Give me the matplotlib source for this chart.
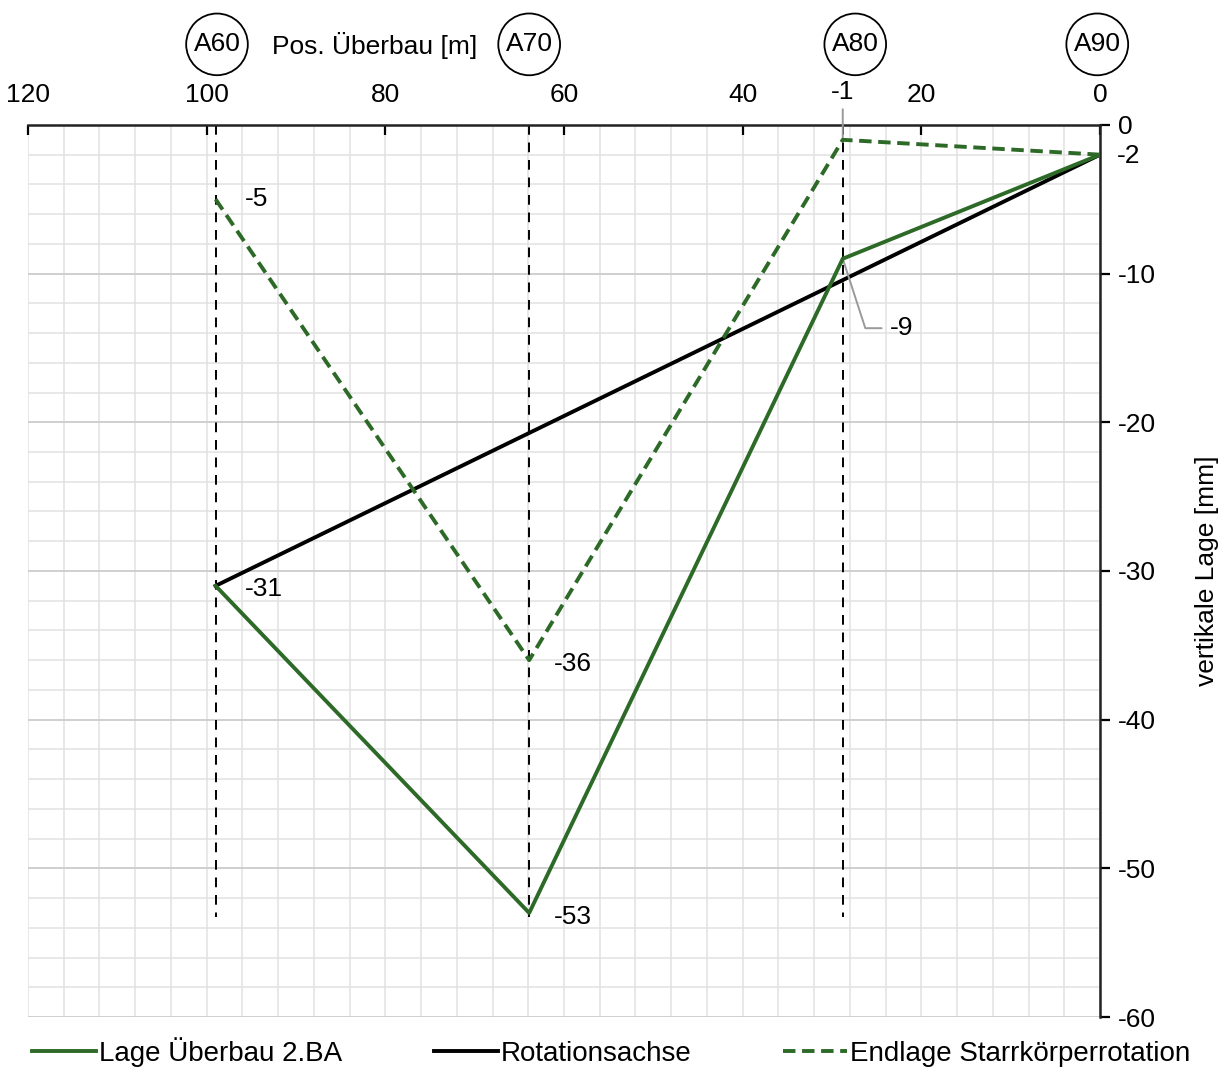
import matplotlib
matplotlib.use("Agg")
import matplotlib.pyplot as plt
from matplotlib.ticker import MultipleLocator

plt.rcParams['font.family'] = ['Liberation Sans', 'DejaVu Sans']

# ---- data ----
axes_names = ["A60", "A70", "A80", "A90"]
axes_pos = [99.0, 63.9, 28.8, 0.0]
lage_ueberbau = [-31, -53, -9, -2]
rot_x = [99.0, 0.0]
rot_y = [-31, -2]
endlage = [-5, -36, -1, -2]
x_ticks = [120, 100, 80, 60, 40, 20, 0]
y_ticks = [0, -10, -20, -30, -40, -50, -60]

green = "#2d6a27"
fs = 19

fig = plt.figure(figsize=(12.28, 10.77), dpi=100)
ax = fig.add_axes([0.0228, 0.0557, 0.8730, 0.8283])

ax.set_xlim(120, 0)
ax.set_ylim(-60, 0)

# grid
ax.xaxis.set_minor_locator(MultipleLocator(4))
ax.yaxis.set_minor_locator(MultipleLocator(2))
ax.set_xticks(x_ticks)
ax.set_yticks(y_ticks)
ax.grid(which='minor', color='#e1e1e1', lw=1.1)
ax.grid(which='major', axis='y', color='#cccccc', lw=1.3)
ax.grid(which='major', axis='x', color='#e1e1e1', lw=1.1)
ax.set_axisbelow(True)

for s in ['left', 'bottom']:
    ax.spines[s].set_visible(False)
for s in ['top', 'right']:
    ax.spines[s].set_color('#222222')
    ax.spines[s].set_linewidth(1.8)

ax.xaxis.tick_top()
ax.yaxis.tick_right()
ax.tick_params(axis='x', which='major', direction='in', length=7, width=1.6,
               labelsize=fs, pad=13, colors='black')
ax.tick_params(axis='y', which='major', direction='out', length=7, width=1.6,
               labelsize=fs, pad=6, colors='black')
ax.tick_params(which='minor', length=0)
ax.set_yticklabels([str(v) for v in y_ticks])

ax.set_ylabel("vertikale Lage [mm]", fontsize=fs, labelpad=28)
ax.yaxis.set_label_position('right')

# vertical axis lines (dashed)
for xp in axes_pos[:3]:
    ax.plot([xp, xp], [0, -53.3], color='black', lw=1.4, ls=(0, (5, 4)), zorder=2)

# series
l1, = ax.plot(axes_pos, lage_ueberbau, color=green, lw=2.8, zorder=4,
              label="Lage Überbau 2.BA")
l2, = ax.plot(rot_x, rot_y, color='black', lw=2.8, zorder=3,
              label="Rotationsachse")
l3, = ax.plot(axes_pos, endlage, color=green, lw=2.8, ls=(0, (3.2, 1.7)),
              zorder=4, label="Endlage Starrkörperrotation")

# data labels
def lab(x, y, txt, dx, dy):
    ax.annotate(txt, (x, y), xytext=(dx, dy), textcoords='offset points',
                fontsize=fs, ha='left', va='center', annotation_clip=False)

lab(axes_pos[0], endlage[0], "-5", 21, 0)
lab(axes_pos[0], rot_y[0], "-31", 21, -2)
lab(axes_pos[1], endlage[1], "-36", 18, -3)
lab(axes_pos[1], lage_ueberbau[1], "-53", 18, -3)
lab(axes_pos[3], lage_ueberbau[3], "-2", 12, -1)
ax.annotate("-9", (axes_pos[2], lage_ueberbau[2]), xytext=(34, -50),
            textcoords='offset points', fontsize=fs, ha='left', va='center',
            arrowprops=dict(arrowstyle='-', color='#9a9a9a', lw=1.4,
                            shrinkA=4, shrinkB=0, relpos=(0, 0.5),
                            connectionstyle='angle,angleA=0,angleB=-72,rad=0'))
ax.annotate("-1", (axes_pos[2], endlage[2]), xytext=(0, 26),
            textcoords='offset points', fontsize=fs, ha='center', va='bottom',
            annotation_clip=False,
            arrowprops=dict(arrowstyle='-', color='#9a9a9a', lw=1.4,
                            shrinkA=2, shrinkB=0, relpos=(0.5, 0)))

# axis circles
circle_dx = [1, 0, 9, -2]
for name, xp, dx in zip(axes_names, axes_pos, circle_dx):
    ax.annotate(name, (xp, 0), xytext=(dx, 58), textcoords='offset points',
                ha='center', va='center', fontsize=fs, annotation_clip=False,
                bbox=dict(boxstyle='circle,pad=0.28', fc='white', ec='black', lw=1.3))

fig.text(0.305, 0.958, "Pos. Überbau [m]", fontsize=fs, ha='center', va='center')

fig.legend(handles=[l1, l2, l3], loc='lower left', bbox_to_anchor=(0.006, -0.014),
           ncol=3, frameon=False, fontsize=fs + 1, handlelength=2.3,
           handletextpad=0.1, columnspacing=3.3)

fig.savefig("out.png", dpi=100)
